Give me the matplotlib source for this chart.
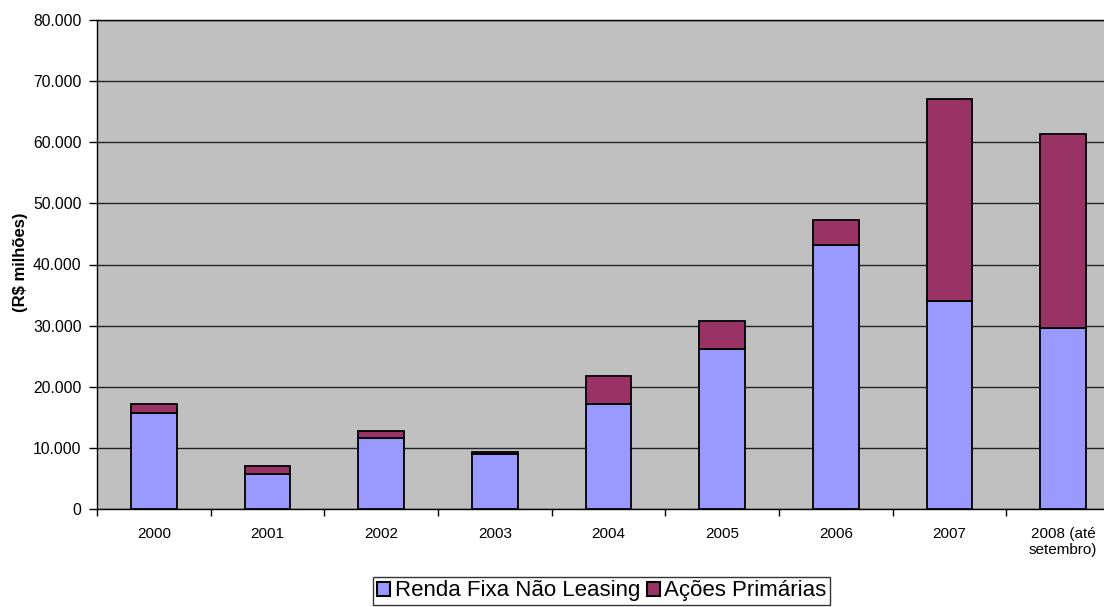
import numpy as np
import matplotlib.pyplot as plt

plt.rcParams['font.family'] = ['Liberation Sans', 'DejaVu Sans']

# dados (R$ milhões)
anos = ["2000", "2001", "2002", "2003", "2004", "2005", "2006", "2007", "2008 (até\nsetembro)"]
renda_fixa = [15750, 5730, 11670, 9050, 17230, 26100, 43200, 33970, 29670]
acoes = [1430, 1300, 1130, 280, 4530, 4600, 4100, 33130, 31680]

cor_renda = "#9999FF"
cor_acoes = "#993366"

fig = plt.figure(figsize=(11.04, 6.07), dpi=100)
ax = fig.add_axes([97 / 1104, 1 - 509 / 607, 1023 / 1104, 489 / 607])
ax.set_facecolor("#C0C0C0")

x = np.arange(len(anos))
ax.bar(x, renda_fixa, 0.4, color=cor_renda, edgecolor="black", linewidth=1.3,
       label="Renda Fixa Não Leasing", zorder=3)
ax.bar(x, acoes, 0.4, bottom=renda_fixa, color=cor_acoes, edgecolor="black",
       linewidth=1.3, label="Ações Primárias", zorder=3)

ax.set_xlim(-0.5, len(anos) - 0.5)
ax.set_ylim(0, 80000)
ax.set_yticks(np.arange(0, 80001, 10000))
ax.set_yticklabels([f"{v:,}".replace(",", ".") for v in range(0, 80001, 10000)])
ax.yaxis.grid(True, color="#222222", linewidth=1, zorder=1)
ax.set_axisbelow(True)

ax.set_xticks(x)
ax.set_xticklabels(anos)
ax.set_xticks(np.arange(-0.5, len(anos)), minor=True)
ax.tick_params(axis="x", which="major", length=0, pad=13, labelsize=11)
ax.tick_params(axis="x", which="minor", length=5, width=1, direction="out")
ax.tick_params(axis="y", length=6, width=1, pad=5, labelsize=11.3)

for s in ["left", "bottom", "top"]:
    ax.spines[s].set_color("black")
    ax.spines[s].set_linewidth(1)
ax.spines["right"].set_visible(False)

ax.set_ylabel("(R$ milhões)", fontsize=12, fontweight="bold", va="center")
ax.yaxis.set_label_coords(-0.075, 0.505)

leg = fig.legend(loc="lower center", bbox_to_anchor=(0.545, 0.0), ncol=2,
                 fontsize=16, frameon=True, fancybox=False, edgecolor="black",
                 handlelength=0.6, handleheight=0.6, handletextpad=0.2,
                 columnspacing=0.3, borderpad=0.15, borderaxespad=0.1)
leg.get_frame().set_linewidth(1)
for h in leg.legend_handles:
    h.set_linewidth(1.5)

fig.savefig("out.png", dpi=100)
